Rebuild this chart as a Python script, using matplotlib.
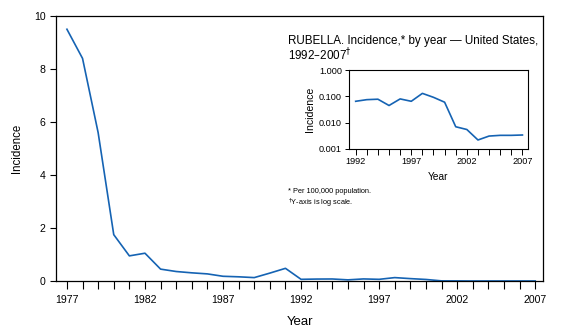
import matplotlib
matplotlib.use("Agg")
import matplotlib.pyplot as plt
from matplotlib.ticker import FixedLocator, NullLocator

plt.rcParams['font.family'] = ['Liberation Sans', 'DejaVu Sans']

years = list(range(1977, 2008))
incidence = [9.5, 8.4, 5.6, 1.75, 0.95, 1.05, 0.45, 0.36, 0.31, 0.27, 0.18, 0.16, 0.13,
             0.30, 0.48,
             0.065, 0.075, 0.078, 0.045, 0.08, 0.065, 0.13, 0.092, 0.06,
             0.007, 0.0055, 0.0022, 0.0031, 0.0033, 0.0033, 0.0034]

inset_years = years[15:]
inset_incidence = incidence[15:]

blue = '#1563b3'

fig = plt.figure(figsize=(5.65, 3.33), dpi=100)
ax = fig.add_axes([0.0991, 0.156, 0.862, 0.796])
ax.plot(years, incidence, color=blue, lw=1.2)
ax.set_xlim(1976.3, 2007.5)
ax.set_ylim(0, 10)
ax.set_yticks([0, 2, 4, 6, 8, 10])
ax.set_xticks(years[::5])
ax.xaxis.set_minor_locator(FixedLocator(years))
ax.tick_params(axis='x', which='both', length=6, width=0.8, labelsize=7.6, pad=4)
ax.tick_params(axis='y', length=4, width=0.8, labelsize=7.6)
for s in ax.spines.values():
    s.set_linewidth(0.9)
ax.set_xlabel('Year', fontsize=9.5, labelpad=8)
ax.set_ylabel('Incidence', fontsize=8.3, labelpad=8)

# inset
ins = fig.add_axes([0.6177, 0.5526, 0.3168, 0.237])
ins.plot(inset_years, inset_incidence, color=blue, lw=1.2)
ins.set_yscale('log')
ins.set_ylim(0.001, 1)
ins.set_xlim(1991.4, 2007.5)
ins.set_yticks([0.001, 0.01, 0.1, 1])
ins.set_yticklabels(['0.001', '0.010', '0.100', '1.000'])
ins.yaxis.set_minor_locator(NullLocator())
ins.set_xticks(inset_years[::5])
ins.xaxis.set_minor_locator(FixedLocator(inset_years))
ins.tick_params(axis='x', which='both', length=4, width=0.7, labelsize=6.6, pad=2)
ins.tick_params(axis='y', length=3, width=0.7, labelsize=6.6, pad=2)
for s in ins.spines.values():
    s.set_linewidth(0.8)
ins.set_xlabel('Year', fontsize=7.3, labelpad=4)
ins.set_ylabel('Incidence', fontsize=7.6, labelpad=3)

fig.text(288 / 565, 1 - 60 / 333,
         'RUBELLA. Incidence,* by year \u2014 United States,\n1992\u20132007$^{\u2020}$',
         fontsize=8.4, va='baseline', linespacing=0.95)
fig.text(288 / 565, 1 - 206 / 333,
         '* Per 100,000 population.\n$^{\u2020}$Y-axis is log scale.',
         fontsize=5.3, va='baseline', linespacing=1.2)

fig.savefig('out.png', dpi=100)
